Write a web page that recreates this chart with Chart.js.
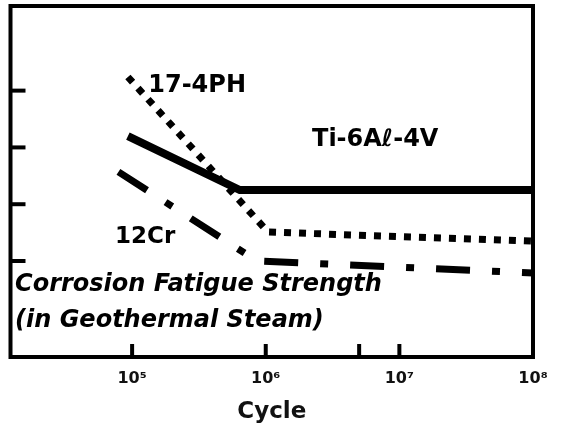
<!DOCTYPE html>
<html><head><meta charset="utf-8">
<script src="https://cdn.jsdelivr.net/npm/chart.js@4.4.0/dist/chart.umd.min.js"></script>
<style>html,body{margin:0;padding:0;background:#fff}#wrap{width:564px;height:427px;position:relative}</style>
</head><body><div id="wrap"><canvas id="c"></canvas></div>
<script>
// ---- data ----
const tiCycles = [9.3e4, 6.4e5, 1e8];
const tiStrength = [42.0, 32.5, 32.5];
const ph174Cycles = [9.3e4, 1.04e6, 1e8];
const ph174Strength = [52.4, 25.1, 23.5];
const cr12Cycles = [7.9e4, 8.6e5, 1e8];
const cr12Strength = [35.7, 20.0, 17.9];
const seriesNames = ['Ti-6A\u2113-4V', '17-4PH', '12Cr'];
const xTickValues = [1e5, 1e6, 5e6, 1e7, 1e8];
const xTickLabels = ['10\u2075', '10\u2076', '', '10\u2077', '10\u2078'];
const yTickValues = [20, 30, 40, 50];
const noteLines = ['Corrosion Fatigue Strength', '(in Geothermal Steam)'];
const xAxisTitle = 'Cycle';

// ---- annotation placement (data coordinates) ----
const labelPlaces = [
  {text: seriesNames[0], x: 2.22e6, y: 40.2, font: 'bold 24px "DejaVu Sans"'},
  {text: seriesNames[1], x: 1.32e5, y: 49.7, font: 'bold 24px "DejaVu Sans"'},
  {text: seriesNames[2], x: 7.46e4, y: 23.2, font: 'bold 23px "DejaVu Sans"'},
  {text: noteLines[0], x: 1.33e4, y: 14.7, font: 'italic bold 24px "DejaVu Sans"'},
  {text: noteLines[1], x: 1.33e4, y: 8.3, font: 'italic bold 24px "DejaVu Sans"'}
];

const toPts = (xs, ys) => xs.map((x, i) => ({x: x, y: ys[i]}));

const framePlugin = {
  id: 'frame',
  afterDatasetsDraw(chart) {
    const {ctx, chartArea: a, scales: {x, y}} = chart;
    ctx.save();
    ctx.strokeStyle = '#000';
    ctx.lineWidth = 4;
    ctx.strokeRect(a.left, a.top, a.right - a.left, a.bottom - a.top);
    yTickValues.forEach(v => {
      const py = y.getPixelForValue(v);
      ctx.beginPath(); ctx.moveTo(a.left, py); ctx.lineTo(a.left + 15, py); ctx.stroke();
    });
    xTickValues.forEach(v => {
      const px = x.getPixelForValue(v);
      ctx.beginPath(); ctx.moveTo(px, a.bottom); ctx.lineTo(px, a.bottom - 13); ctx.stroke();
    });
    ctx.fillStyle = '#000';
    ctx.textAlign = 'left';
    ctx.textBaseline = 'alphabetic';
    labelPlaces.forEach(l => {
      ctx.font = l.font;
      ctx.fillText(l.text, x.getPixelForValue(l.x), y.getPixelForValue(l.y));
    });
    ctx.restore();
  }
};

new Chart(document.getElementById('c'), {
  type: 'scatter',
  data: {
    datasets: [
      {label: seriesNames[0], data: toPts(tiCycles, tiStrength), showLine: true,
       borderColor: '#000', borderWidth: 8, pointRadius: 0, borderCapStyle: 'butt'},
      {label: seriesNames[1], data: toPts(ph174Cycles, ph174Strength), showLine: true,
       borderColor: '#000', borderWidth: 7, pointRadius: 0, borderDash: [7, 8], borderCapStyle: 'butt'},
      {label: seriesNames[2], data: toPts(cr12Cycles, cr12Strength), showLine: true,
       borderColor: '#000', borderWidth: 7, pointRadius: 0, borderDash: [34, 22, 8, 22], borderCapStyle: 'butt'}
    ]
  },
  options: {
    responsive: true,
    maintainAspectRatio: false,
    animation: false,
    layout: {padding: {left: 10.5, right: 31, top: 6, bottom: 0}},
    plugins: {legend: {display: false}, tooltip: {enabled: false}},
    scales: {
      x: {
        type: 'logarithmic', min: 12300, max: 1e8,
        afterBuildTicks: axis => { axis.ticks = xTickValues.map(v => ({value: v})); },
        afterFit: axis => { axis.height = 70; },
        grid: {display: false}, border: {display: false},
        ticks: {
          autoSkip: false, maxRotation: 0, padding: 4, color: '#111',
          font: {family: '"DejaVu Sans"', size: 16, weight: 'bold'},
          callback: (v) => { const i = xTickValues.indexOf(v); return i >= 0 ? xTickLabels[i] : ''; }
        },
        title: {display: true, text: xAxisTitle, color: '#111',
          font: {family: '"DejaVu Sans"', size: 23, weight: 'bold'}, padding: {top: 0, bottom: 1}}
      },
      y: {type: 'linear', min: 3.1, max: 64.9, display: false}
    }
  },
  plugins: [framePlugin]
});
</script>
</body></html>
